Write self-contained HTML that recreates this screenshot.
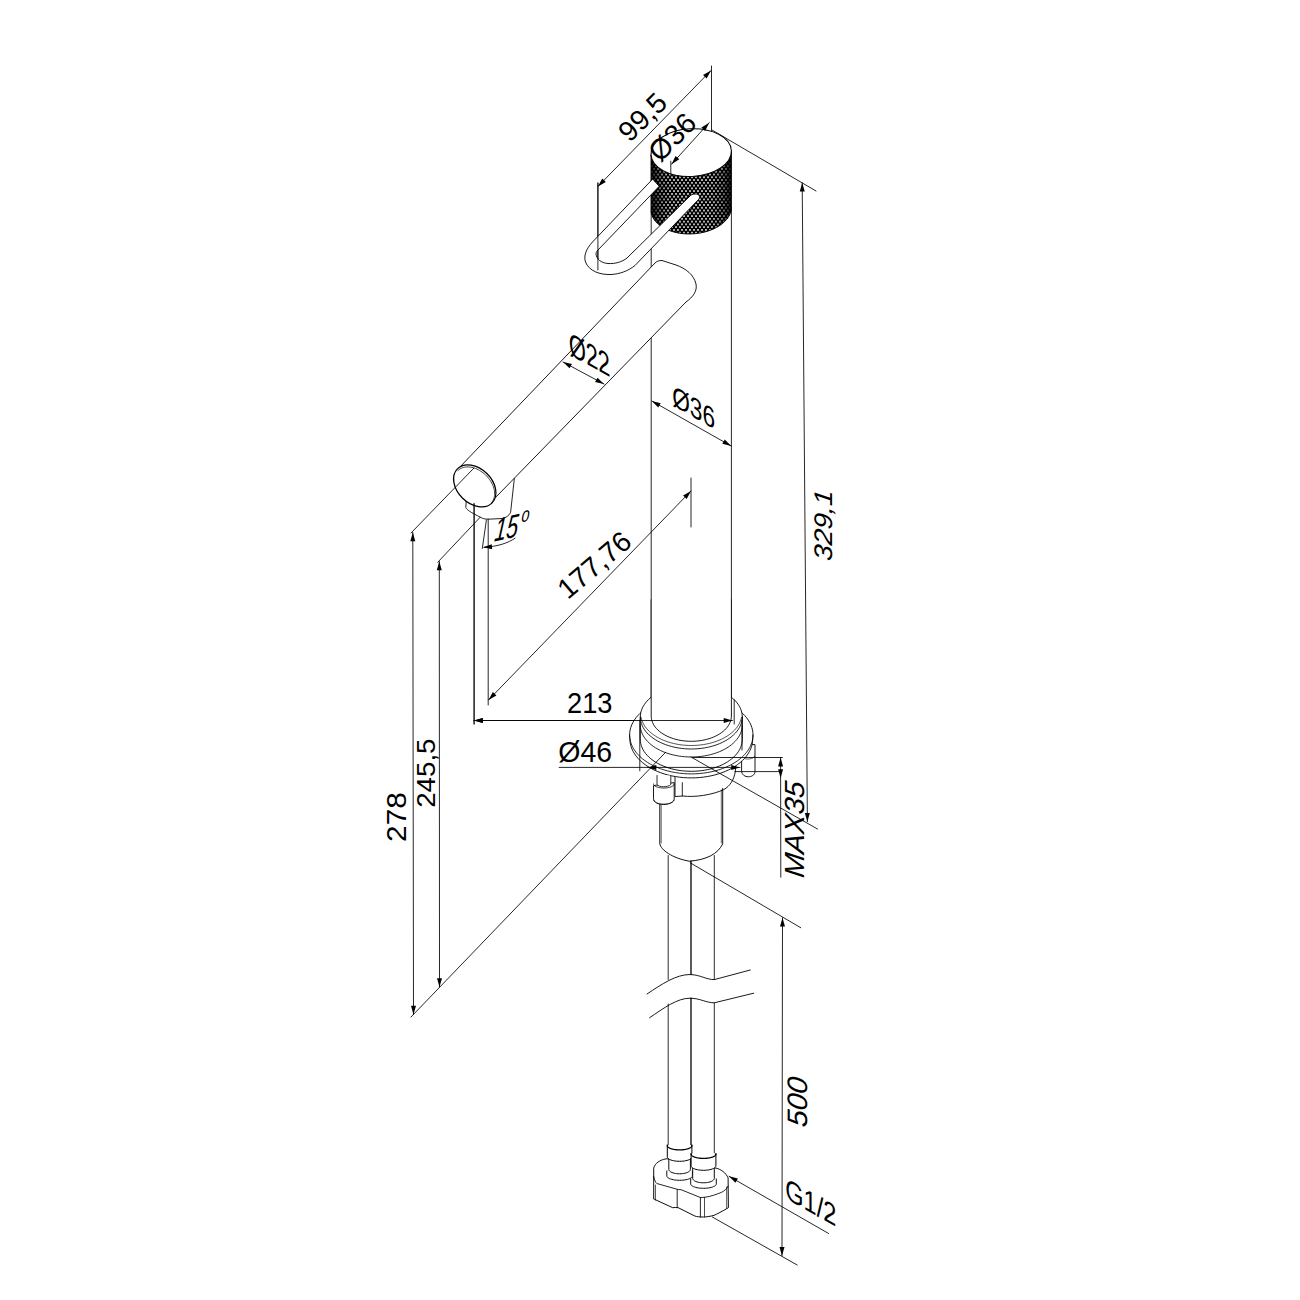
<!DOCTYPE html>
<html><head><meta charset="utf-8"><style>
html,body{margin:0;padding:0;background:#fff;}
svg{display:block;}
text{font-family:"Liberation Sans",sans-serif;fill:#000;stroke:none;}
</style></head><body>
<svg width="1300" height="1300" viewBox="0 0 1300 1300">
<defs>
<pattern id="knurl" width="4" height="5.54" patternUnits="userSpaceOnUse">
<rect width="4" height="5.54" fill="#000"/>
<circle cx="0" cy="0" r="0.95" fill="#fff"/><circle cx="4" cy="0" r="0.95" fill="#fff"/>
<circle cx="0" cy="5.54" r="0.95" fill="#fff"/><circle cx="4" cy="5.54" r="0.95" fill="#fff"/>
<circle cx="2" cy="2.77" r="0.95" fill="#fff"/>
</pattern>
<linearGradient id="kshade" x1="651" y1="0" x2="731.5" y2="0" gradientUnits="userSpaceOnUse">
<stop offset="0" stop-color="#000" stop-opacity="0.85"/>
<stop offset="0.12" stop-color="#000" stop-opacity="0.3"/>
<stop offset="0.25" stop-color="#000" stop-opacity="0"/>
<stop offset="0.75" stop-color="#000" stop-opacity="0"/>
<stop offset="0.9" stop-color="#000" stop-opacity="0.35"/>
<stop offset="1" stop-color="#000" stop-opacity="0.9"/>
</linearGradient>
</defs>
<rect width="1300" height="1300" fill="#fff"/>
<g fill="none" stroke="#000" stroke-linecap="round" stroke-linejoin="round">
<path d="M711.50,66.00L711.50,131.00" stroke-width="0.85"/>
<path d="M711.00,70.50L597.90,186.50" stroke-width="0.85"/>
<path d="M711.00,70.50L706.65,78.55L703.07,75.06Z" fill="#000" stroke="none"/>
<path d="M597.90,186.50L602.25,178.45L605.83,181.94Z" fill="#000" stroke="none"/>
<path d="M597.90,183.00L597.90,270.00" stroke-width="0.85"/>
<path d="M712.00,130.00L816.00,191.00" stroke-width="0.85"/>
<path d="M802.20,182.80L807.40,821.70" stroke-width="0.85"/>
<path d="M802.20,182.80L804.77,191.58L799.77,191.62Z" fill="#000" stroke="none"/>
<path d="M807.40,821.70L804.83,812.92L809.83,812.88Z" fill="#000" stroke="none"/>
<path d="M731.34,150.50L731.34,152.06L731.16,153.62L730.82,155.17L730.30,156.72L729.61,158.25L728.77,159.75L727.76,161.23L726.59,162.66L725.27,164.06L723.81,165.40L722.20,166.69L720.47,167.92L718.61,169.08L716.63,170.18L714.54,171.19L712.35,172.13L710.07,172.99L707.71,173.75L705.28,174.43L702.79,175.01L700.25,175.50L697.67,175.89L695.07,176.18L692.45,176.37L689.82,176.45L687.19,176.44L684.59,176.32L682.01,176.10L679.48,175.78L676.99,175.36L674.56,174.85L672.21,174.24L669.93,173.53L667.75,172.74L665.67,171.86L663.69,170.89L661.84,169.85L660.11,168.74L658.51,167.55L657.06,166.31L655.75,165.00L654.59,163.64L653.59,162.23L652.75,160.78L652.07,159.30L651.56,157.79L651.22,156.25L651.06,154.70L651.06,210.70L651.23,212.35L651.57,213.98L652.08,215.59L652.77,217.17L653.61,218.71L654.62,220.21L655.78,221.66L657.10,223.05L658.56,224.39L660.16,225.65L661.89,226.84L663.75,227.95L665.73,228.98L667.81,229.93L670.00,230.78L672.27,231.53L674.63,232.19L677.06,232.75L679.55,233.20L682.09,233.55L684.67,233.79L687.27,233.92L689.90,233.95L692.52,233.87L695.15,233.67L697.75,233.37L700.33,232.97L702.87,232.46L705.36,231.85L707.79,231.14L710.14,230.33L712.42,229.43L714.60,228.44L716.69,227.36L718.66,226.21L720.52,224.98L722.26,223.68L723.86,222.31L725.31,220.89L726.63,219.41L727.79,217.89L728.80,216.32L729.64,214.73L730.32,213.11L730.83,211.47L731.17,209.81L731.35,208.15L731.34,206.50Z" fill="url(#knurl)" stroke="#000" stroke-width="0.98"/>
<path d="M731.34,150.50L731.34,152.06L731.16,153.62L730.82,155.17L730.30,156.72L729.61,158.25L728.77,159.75L727.76,161.23L726.59,162.66L725.27,164.06L723.81,165.40L722.20,166.69L720.47,167.92L718.61,169.08L716.63,170.18L714.54,171.19L712.35,172.13L710.07,172.99L707.71,173.75L705.28,174.43L702.79,175.01L700.25,175.50L697.67,175.89L695.07,176.18L692.45,176.37L689.82,176.45L687.19,176.44L684.59,176.32L682.01,176.10L679.48,175.78L676.99,175.36L674.56,174.85L672.21,174.24L669.93,173.53L667.75,172.74L665.67,171.86L663.69,170.89L661.84,169.85L660.11,168.74L658.51,167.55L657.06,166.31L655.75,165.00L654.59,163.64L653.59,162.23L652.75,160.78L652.07,159.30L651.56,157.79L651.22,156.25L651.06,154.70L651.06,210.70L651.23,212.35L651.57,213.98L652.08,215.59L652.77,217.17L653.61,218.71L654.62,220.21L655.78,221.66L657.10,223.05L658.56,224.39L660.16,225.65L661.89,226.84L663.75,227.95L665.73,228.98L667.81,229.93L670.00,230.78L672.27,231.53L674.63,232.19L677.06,232.75L679.55,233.20L682.09,233.55L684.67,233.79L687.27,233.92L689.90,233.95L692.52,233.87L695.15,233.67L697.75,233.37L700.33,232.97L702.87,232.46L705.36,231.85L707.79,231.14L710.14,230.33L712.42,229.43L714.60,228.44L716.69,227.36L718.66,226.21L720.52,224.98L722.26,223.68L723.86,222.31L725.31,220.89L726.63,219.41L727.79,217.89L728.80,216.32L729.64,214.73L730.32,213.11L730.83,211.47L731.17,209.81L731.35,208.15L731.34,206.50Z" fill="url(#kshade)" stroke="none"/>
<ellipse cx="691.2" cy="152.6" rx="40.2" ry="23.8" transform="rotate(-3 691.2 152.6)" stroke-width="0.98" fill="#fff"/>
<path d="M709.20,122.70L671.50,164.20" stroke-width="0.85"/>
<path d="M709.20,122.70L705.13,130.89L701.43,127.53Z" fill="#000" stroke="none"/>
<path d="M671.50,164.20L675.57,156.01L679.27,159.37Z" fill="#000" stroke="none"/>
<path d="M670.80,161.20L670.80,174.00" stroke-width="0.85"/>
<path d="M651.20,211.00L651.20,716.00" stroke-width="0.85"/>
<path d="M731.40,208.00L731.40,721.00" stroke-width="0.85"/>
<path d="M652.5,179.2 L592.5,242 C586,249 583.5,256 585.5,262 C589,271 600,275 611,274.5 C620,274 628,271 635,265.5 L698.5,199.5 C701,196.5 699,194 695,194 C692.5,194 691,195 690,196 L627,258 C622,262 615,264 608,263.5 C601,263 596.5,259 596,254 C596,252 597,251 598,250 L659,186.5 Z" stroke-width="0.9" fill="#fff"/>
<path d="M597.90,183.00L597.90,270.00" stroke-width="0.85"/>
<path d="M466.3,500 L465.8,507.5 C467,510 470,512 481.5,517.8 C484,519 486,519.2 488.5,519.2 L502.3,518.5 C506,517.5 509,516 510.6,512.3 L514.4,478 L495,490 Z" stroke-width="0.86" fill="#fff"/>
<path d="M458.5,468.5 L655,263 C657,261 659,260.5 662,260.5 L676,265 C686,268.5 694,275 696,284 C697.5,291 693,297 686,302 L496.5,496.5 Z" stroke-width="0.9" fill="#fff"/>
<ellipse cx="474.75" cy="485.85" rx="24.3" ry="17.3" transform="rotate(44.4 474.75 485.85)" stroke-width="1.25" fill="#fff"/>
<path d="M457.97,470.62L458.74,469.91L459.57,469.27L460.46,468.70L461.41,468.20L462.41,467.79L463.47,467.45L464.57,467.20L465.71,467.02L466.89,466.93L468.10,466.92L469.34,466.99L470.60,467.15L471.87,467.39L473.16,467.70L474.45,468.10L475.74,468.57L477.03,469.13L478.31,469.75L479.57,470.44L480.81,471.21L482.03,472.04L483.21,472.93L484.36,473.87L485.47,474.87L486.53,475.92L487.54,477.02L488.50,478.16L489.40,479.33L490.24,480.53L491.01,481.76L491.72,483.01L492.35,484.28L492.92,485.56L493.40,486.84L493.81,488.13L494.13,489.40L494.38,490.67L494.54,491.92L494.62,493.15L494.62,494.36L494.53,495.53L494.36,496.67L494.11,497.76L493.78,498.82L493.37,499.82L492.88,500.76L492.31,501.65L491.67,502.48" stroke-width="0.75" fill="none"/>
<path d="M411.00,533.00L474.00,468.00" stroke-width="0.85"/>
<path d="M474.00,503.30L474.00,724.00" stroke-width="0.85"/>
<path d="M488.20,519.00L488.20,705.00" stroke-width="0.85"/>
<path d="M486.40,520.00L482.30,548.50" stroke-width="0.85"/>
<path d="M437.70,562.30L480.20,517.20" stroke-width="0.85"/>
<path d="M563.00,362.00L604.00,384.00" stroke-width="0.85"/>
<path d="M563.00,362.00L571.94,363.96L569.57,368.36Z" fill="#000" stroke="none"/>
<path d="M604.00,384.00L595.06,382.04L597.43,377.64Z" fill="#000" stroke="none"/>
<path d="M651.80,401.00L731.20,446.00" stroke-width="0.85"/>
<path d="M651.80,401.00L660.69,403.16L658.22,407.51Z" fill="#000" stroke="none"/>
<path d="M731.20,446.00L722.31,443.84L724.78,439.49Z" fill="#000" stroke="none"/>
<path d="M488.50,700.00L691.00,491.00" stroke-width="0.85"/>
<path d="M488.50,700.00L492.83,691.94L496.42,695.42Z" fill="#000" stroke="none"/>
<path d="M691.00,491.00L686.67,499.06L683.08,495.58Z" fill="#000" stroke="none"/>
<path d="M691.00,478.00L691.00,527.00" stroke-width="0.85"/>
<path d="M515.1,538.2 C508,543 498,546.5 484,547.3" stroke-width="0.85" fill="none"/>
<path d="M483.20,547.30L491.79,544.16L492.16,549.14Z" fill="#000" stroke="none"/>
<path d="M412.80,532.50L413.50,1014.60" stroke-width="0.85"/>
<path d="M412.80,532.50L415.31,541.30L410.31,541.30Z" fill="#000" stroke="none"/>
<path d="M413.50,1014.60L410.99,1005.80L415.99,1005.80Z" fill="#000" stroke="none"/>
<path d="M439.30,561.50L439.50,987.00" stroke-width="0.85"/>
<path d="M439.30,561.50L441.80,570.30L436.80,570.30Z" fill="#000" stroke="none"/>
<path d="M439.50,987.00L437.00,978.20L442.00,978.20Z" fill="#000" stroke="none"/>
<path d="M474.00,720.50L732.50,720.50" stroke-width="0.85"/>
<path d="M474.00,720.50L482.80,718.00L482.80,723.00Z" fill="#000" stroke="none"/>
<path d="M732.50,720.50L723.70,723.00L723.70,718.00Z" fill="#000" stroke="none"/>
<path d="M474.20,504.00L474.20,724.00" stroke-width="0.85"/>
<path d="M734.20,700.00L734.20,724.00" stroke-width="0.85"/>
<path d="M675.4,796.5 L682.9,796 C695,797.5 712,795 723.8,789.6 C730,786 734,780 735.4,771 L735.4,760 L675.4,760 Z" stroke-width="0.9" fill="#fff"/>
<path d="M682.30,782.70L682.30,796.00" stroke-width="0.85"/>
<path d="M741.6,745 L741.6,771.5 C742,775 745,776.8 748.3,776.8 C751.5,776.8 755,775 755,771.5 L755,745 Z" stroke-width="0.9" fill="#fff"/>
<path d="M754.40,756.00L754.39,756.20L754.34,756.39L754.27,756.59L754.18,756.78L754.05,756.96L753.90,757.15L753.72,757.33L753.52,757.50L753.29,757.67L753.04,757.83L752.76,757.98L752.47,758.12L752.15,758.26L751.82,758.38L751.47,758.49L751.10,758.60L750.72,758.69L750.33,758.77L749.92,758.84L749.51,758.90L749.09,758.94L748.66,758.97L748.23,758.99L747.80,759.00L747.37,758.99L746.94,758.97L746.51,758.94L746.09,758.90L745.68,758.84L745.27,758.77L744.88,758.69L744.50,758.60L744.13,758.49L743.78,758.38L743.45,758.26L743.13,758.12L742.84,757.98L742.56,757.83L742.31,757.67L742.08,757.50L741.88,757.33L741.70,757.15L741.55,756.96L741.42,756.78L741.33,756.59L741.26,756.39L741.21,756.20L741.20,756.00" stroke-width="0.68" fill="none"/>
<path d="M629.60,735.00L629.73,732.46L630.13,729.92L630.79,727.41L631.70,724.93L632.87,722.50L634.30,720.11L635.96,717.79L637.87,715.55L640.00,713.39L642.35,711.32L644.91,709.35L647.67,707.49L650.62,705.75L653.74,704.14L657.02,702.66L660.45,701.31L664.01,700.11L667.69,699.06L671.47,698.16L675.33,697.43L679.26,696.85L683.25,696.43L687.26,696.18L691.30,696.10L695.34,696.18L699.35,696.43L703.34,696.85L707.27,697.43L711.13,698.16L714.91,699.06L718.59,700.11L722.15,701.31L725.58,702.66L728.86,704.14L731.98,705.75L734.93,707.49L737.69,709.35L740.25,711.32L742.60,713.39L744.73,715.55L746.64,717.79L748.30,720.11L749.73,722.50L750.90,724.93L751.81,727.41L752.47,729.92L752.87,732.46L753.00,735.00L752.70,739.00L752.57,741.54L752.17,744.08L751.52,746.59L750.61,749.07L749.44,751.50L748.03,753.89L746.37,756.21L744.47,758.45L742.35,760.61L740.01,762.68L737.46,764.65L734.72,766.51L731.78,768.25L728.68,769.86L725.41,771.34L722.00,772.69L718.46,773.89L714.80,774.94L711.04,775.84L707.19,776.57L703.28,777.15L699.31,777.57L695.32,777.82L691.30,777.90L687.28,777.82L683.29,777.57L679.32,777.15L675.41,776.57L671.56,775.84L667.80,774.94L664.14,773.89L660.60,772.69L657.19,771.34L653.92,769.86L650.82,768.25L647.88,766.51L645.14,764.65L642.59,762.68L640.25,760.61L638.13,758.45L636.23,756.21L634.57,753.89L633.16,751.50L631.99,749.07L631.08,746.59L630.43,744.08L630.03,741.54L629.90,739.00Z" stroke-width="0.90" fill="#fff"/>
<path d="M753.00,735.00L752.87,737.54L752.47,740.08L751.81,742.59L750.90,745.07L749.73,747.50L748.30,749.89L746.64,752.21L744.73,754.45L742.60,756.61L740.25,758.68L737.69,760.65L734.93,762.51L731.98,764.25L728.86,765.86L725.58,767.34L722.15,768.69L718.59,769.89L714.91,770.94L711.13,771.84L707.27,772.57L703.34,773.15L699.35,773.57L695.34,773.82L691.30,773.90L687.26,773.82L683.25,773.57L679.26,773.15L675.33,772.57L671.47,771.84L667.69,770.94L664.01,769.89L660.45,768.69L657.02,767.34L653.74,765.86L650.62,764.25L647.67,762.51L644.91,760.65L642.35,758.68L640.00,756.61L637.87,754.45L635.96,752.21L634.30,749.89L632.87,747.50L631.70,745.07L630.79,742.59L630.13,740.08L629.73,737.54L629.60,735.00" stroke-width="0.83" fill="none"/>
<path d="M640.30,717.00L640.41,714.91L640.74,712.82L641.28,710.76L642.04,708.72L643.01,706.71L644.18,704.75L645.56,702.85L647.13,701.00L648.90,699.22L650.84,697.52L652.96,695.90L655.24,694.37L657.67,692.94L660.25,691.61L662.97,690.39L665.80,689.29L668.74,688.30L671.78,687.44L674.91,686.70L678.10,686.09L681.35,685.61L684.64,685.27L687.96,685.07L691.30,685.00L694.64,685.07L697.96,685.27L701.25,685.61L704.50,686.09L707.69,686.70L710.82,687.44L713.86,688.30L716.80,689.29L719.63,690.39L722.35,691.61L724.93,692.94L727.36,694.37L729.64,695.90L731.76,697.52L733.70,699.22L735.47,701.00L737.04,702.85L738.42,704.75L739.59,706.71L740.56,708.72L741.32,710.76L741.86,712.82L742.19,714.91L742.30,717.00L742.30,739.30L742.19,741.39L741.86,743.48L741.32,745.54L740.56,747.58L739.59,749.59L738.42,751.55L737.04,753.45L735.47,755.30L733.70,757.08L731.76,758.78L729.64,760.40L727.36,761.93L724.93,763.36L722.35,764.69L719.63,765.91L716.80,767.01L713.86,768.00L710.82,768.86L707.69,769.60L704.50,770.21L701.25,770.69L697.96,771.03L694.64,771.23L691.30,771.30L687.96,771.23L684.64,771.03L681.35,770.69L678.10,770.21L674.91,769.60L671.78,768.86L668.74,768.00L665.80,767.01L662.97,765.91L660.25,764.69L657.67,763.36L655.24,761.93L652.96,760.40L650.84,758.78L648.90,757.08L647.13,755.30L645.56,753.45L644.18,751.55L643.01,749.59L642.04,747.58L641.28,745.54L640.74,743.48L640.41,741.39L640.30,739.30Z" stroke-width="0.90" fill="#fff"/>
<path d="M742.30,717.00L742.19,719.09L741.86,721.18L741.32,723.24L740.56,725.28L739.59,727.29L738.42,729.25L737.04,731.15L735.47,733.00L733.70,734.78L731.76,736.48L729.64,738.10L727.36,739.63L724.93,741.06L722.35,742.39L719.63,743.61L716.80,744.71L713.86,745.70L710.82,746.56L707.69,747.30L704.50,747.91L701.25,748.39L697.96,748.73L694.64,748.93L691.30,749.00L687.96,748.93L684.64,748.73L681.35,748.39L678.10,747.91L674.91,747.30L671.78,746.56L668.74,745.70L665.80,744.71L662.97,743.61L660.25,742.39L657.67,741.06L655.24,739.63L652.96,738.10L650.84,736.48L648.90,734.78L647.13,733.00L645.56,731.15L644.18,729.25L643.01,727.29L642.04,725.28L641.28,723.24L640.74,721.18L640.41,719.09L640.30,717.00" stroke-width="0.86" fill="none"/>
<path d="M741.54,717.33L741.08,719.24L740.44,721.13L739.62,723.00L738.62,724.83L737.46,726.61L736.12,728.35L734.62,730.04L732.96,731.66L731.15,733.22L729.19,734.71L727.10,736.12L724.87,737.44L722.52,738.68L720.06,739.83L717.49,740.88L714.83,741.83L712.08,742.68L709.25,743.42L706.36,744.05L703.42,744.57L700.43,744.98L697.40,745.27L694.36,745.44L691.30,745.50L688.24,745.44L685.20,745.27L682.17,744.98L679.18,744.57L676.24,744.05L673.35,743.42L670.52,742.68L667.77,741.83L665.11,740.88L662.54,739.83L660.08,738.68L657.73,737.44L655.50,736.12L653.41,734.71L651.45,733.22L649.64,731.66L647.98,730.04L646.48,728.35L645.14,726.61L643.98,724.83L642.98,723.00L642.16,721.13L641.52,719.24L641.06,717.33" stroke-width="0.68" fill="none"/>
<path d="M742.29,725.64L742.12,727.70L741.73,729.76L741.14,731.79L740.34,733.80L739.33,735.76L738.12,737.69L736.72,739.56L735.12,741.37L733.35,743.11L731.40,744.78L729.28,746.36L727.00,747.85L724.57,749.25L722.01,750.55L719.32,751.74L716.50,752.82L713.59,753.78L710.58,754.63L707.49,755.34L704.34,755.94L701.12,756.40L697.87,756.73L694.59,756.93L691.30,757.00L688.01,756.93L684.73,756.73L681.48,756.40L678.26,755.94L675.11,755.34L672.02,754.63L669.01,753.78L666.10,752.82L663.28,751.74L660.59,750.55L658.03,749.25L655.60,747.85L653.32,746.36L651.20,744.78L649.25,743.11L647.48,741.37L645.88,739.56L644.48,737.69L643.27,735.76L642.26,733.80L641.46,731.79L640.87,729.76L640.48,727.70L640.31,725.64" stroke-width="0.83" fill="none"/>
<path d="M651.2,600 L651.2,716 L651.20,716.00L651.29,717.65L651.54,719.30L651.97,720.94L652.57,722.55L653.33,724.13L654.25,725.68L655.34,727.19L656.57,728.65L657.96,730.06L659.49,731.40L661.15,732.68L662.95,733.89L664.86,735.02L666.89,736.07L669.02,737.04L671.25,737.91L673.56,738.69L675.95,739.37L678.41,739.96L680.92,740.44L683.48,740.81L686.07,741.08L688.68,741.25L691.30,741.30L693.92,741.25L696.53,741.08L699.12,740.81L701.68,740.44L704.19,739.96L706.65,739.37L709.04,738.69L711.35,737.91L713.58,737.04L715.71,736.07L717.74,735.02L719.65,733.89L721.45,732.68L723.11,731.40L724.64,730.06L726.03,728.65L727.26,727.19L728.35,725.68L729.27,724.13L730.03,722.55L730.63,720.94L731.06,719.30L731.31,717.65L731.40,716.00 L731.4,600" stroke-width="0.90" fill="#fff"/>
<path d="M653.5,786 L653.5,798.8 C654,802.5 658,804.5 663.8,804.5 C669.5,804.5 674,802 674.2,799 L674.2,783 Z" stroke-width="0.9" fill="#fff"/>
<path d="M674.20,784.00L674.18,784.26L674.11,784.52L674.00,784.78L673.85,785.04L673.65,785.29L673.41,785.53L673.13,785.77L672.81,786.00L672.46,786.22L672.06,786.44L671.63,786.64L671.17,786.83L670.67,787.01L670.15,787.17L669.60,787.33L669.02,787.46L668.43,787.59L667.81,787.70L667.18,787.79L666.53,787.86L665.87,787.92L665.20,787.97L664.53,787.99L663.85,788.00L663.17,787.99L662.50,787.97L661.83,787.92L661.17,787.86L660.52,787.79L659.89,787.70L659.27,787.59L658.68,787.46L658.10,787.33L657.55,787.17L657.03,787.01L656.53,786.83L656.07,786.64L655.64,786.44L655.24,786.22L654.89,786.00L654.57,785.77L654.29,785.53L654.05,785.29L653.85,785.04L653.70,784.78L653.59,784.52L653.52,784.26L653.50,784.00" stroke-width="0.83" fill="none"/>
<path d="M673.99,800.39L673.86,800.64L673.69,800.89L673.49,801.13L673.26,801.37L673.00,801.60L672.71,801.82L672.39,802.04L672.05,802.25L671.67,802.45L671.27,802.64L670.85,802.82L670.40,802.98L669.93,803.14L669.45,803.29L668.94,803.42L668.42,803.54L667.88,803.65L667.33,803.74L666.77,803.82L666.19,803.88L665.61,803.93L665.03,803.97L664.44,803.99L663.85,804.00L663.26,803.99L662.67,803.97L662.09,803.93L661.51,803.88L660.93,803.82L660.37,803.74L659.82,803.65L659.28,803.54L658.76,803.42L658.25,803.29L657.77,803.14L657.30,802.98L656.85,802.82L656.43,802.64L656.03,802.45L655.65,802.25L655.31,802.04L654.99,801.82L654.70,801.60L654.44,801.37L654.21,801.13L654.01,800.89L653.84,800.64L653.71,800.39" stroke-width="0.6" fill="none"/>
<path d="M657,775.5 L657,784.5 C659,787.5 668,787.5 670.8,784.5 L670.8,775.5" stroke-width="0.83" fill="#fff"/>
<path d="M639.80,720.00L639.80,770.80" stroke-width="0.85"/>
<path d="M411.00,1017.00L665.60,752.30" stroke-width="0.85"/>
<path d="M742.00,720.00L742.00,750.00" stroke-width="0.85"/>
<path d="M474.00,720.50L732.50,720.50" stroke-width="0.85"/>
<path d="M474.00,720.50L482.80,718.00L482.80,723.00Z" fill="#000" stroke="none"/>
<path d="M732.50,720.50L723.70,723.00L723.70,718.00Z" fill="#000" stroke="none"/>
<path d="M734.20,700.00L734.20,724.00" stroke-width="0.85"/>
<path d="M647.50,767.40L740.00,767.40" stroke-width="0.85"/>
<path d="M647.50,767.40L656.30,764.90L656.30,769.90Z" fill="#000" stroke="none"/>
<path d="M740.00,767.40L731.20,769.90L731.20,764.90Z" fill="#000" stroke="none"/>
<path d="M559.20,767.40L647.50,767.40" stroke-width="0.85"/>
<path d="M692.70,757.50L782.30,757.50" stroke-width="0.85"/>
<path d="M735.00,771.60L780.50,771.60" stroke-width="0.85"/>
<path d="M780.60,757.50L780.80,877.20" stroke-width="0.85"/>
<path d="M780.60,757.70L783.10,766.50L778.10,766.50Z" fill="#000" stroke="none"/>
<path d="M780.60,778.00L778.10,769.20L783.10,769.20Z" fill="#000" stroke="none"/>
<path d="M691.00,757.00L817.50,829.00" stroke-width="0.85"/>
<path d="M659.8,804.6 L659.8,843.8 C661,850 672,858 689.2,861.2 C706,860 718,854 722.7,843.8 L722.7,788.5" stroke-width="0.94" fill="none"/>
<path d="M661.20,805.00L661.20,843.00" stroke-width="0.6"/>
<path d="M721.30,790.00L721.30,843.00" stroke-width="0.6"/>
<path d="M668.20,855.50L668.20,979.50" stroke-width="0.83"/>
<path d="M691.00,861.20L691.00,974.50" stroke-width="1.3"/>
<path d="M714.30,855.50L714.30,979.60" stroke-width="0.83"/>
<path d="M668.20,1004.00L668.20,1145.00" stroke-width="0.83"/>
<path d="M691.00,998.20L691.00,1145.00" stroke-width="1.3"/>
<path d="M714.30,1002.80L714.30,1153.00" stroke-width="0.83"/>
<path d="M647,994 C662,984 676,974.5 690.2,974.5 C701,975 706,979.6 714.3,979.6 L750.3,970" stroke-width="0.9" fill="none"/>
<path d="M649.6,1017.7 C664,1008 677,998.2 690.2,998.2 C701,998.5 706,1002.8 714.3,1002.8 L753.7,993.2" stroke-width="0.9" fill="none"/>
<path d="M690.20,862.80L800.70,927.70" stroke-width="0.85"/>
<path d="M782.50,917.80L782.00,1255.70" stroke-width="0.85"/>
<path d="M782.50,917.80L784.99,926.60L779.99,926.60Z" fill="#000" stroke="none"/>
<path d="M782.00,1255.70L779.51,1246.90L784.51,1246.90Z" fill="#000" stroke="none"/>
<path d="M712.30,1217.00L797.20,1265.00" stroke-width="0.85"/>
<path d="M729.00,1176.30L828.60,1233.50" stroke-width="0.85"/>
<path d="M729.00,1176.30L737.88,1178.51L735.39,1182.85Z" fill="#000" stroke="none"/>
<path d="M653.7,1198.7 L653.7,1168.2 C655,1163 660,1160 665.8,1158.9 L691,1158 L715,1167.9 C721,1169 726,1173 728.1,1177.9 L728.4,1207.7 C722,1211.5 717,1214 714.2,1215.3 C710,1216.5 706,1217 703.2,1217 C700,1217 697,1216.8 694.8,1216 L678.2,1207.7 C676,1207.3 674.5,1207.5 672.7,1207.7 L654.7,1199.4 Z" stroke-width="0.95" fill="#fff"/>
<path d="M653.7,1176.5 C654.5,1180 655.5,1182.5 656.8,1183.5 L676.2,1189 C678,1189.5 679.5,1189.8 681,1189.7 L700.4,1197.5 L704.5,1197.3 C711,1196.5 716,1194.5 721.2,1192.5 C724.5,1191 727,1188.5 728.1,1186.2" stroke-width="0.85" fill="none"/>
<path d="M655.4,1185 L655.4,1200" stroke-width="0.7" fill="none"/>
<path d="M677.2,1189.5 L677.2,1207.7" stroke-width="0.85" fill="none"/>
<path d="M700.4,1197.5 L700.4,1217" stroke-width="0.85" fill="none"/>
<path d="M704.5,1197.3 L704.5,1217" stroke-width="0.7" fill="none"/>
<path d="M726.7,1187 L726.7,1208" stroke-width="0.7" fill="none"/>
<path d="M666.80,1170.90 L666.80,1175.90 L666.80,1175.90L666.91,1176.47L667.24,1177.04L667.77,1177.58L668.51,1178.10L669.45,1178.58L670.55,1179.01L671.81,1179.39L673.20,1179.71L674.70,1179.97L676.29,1180.15L677.93,1180.26L679.60,1180.30L681.27,1180.26L682.91,1180.15L684.50,1179.97L686.00,1179.71L687.39,1179.39L688.65,1179.01L689.75,1178.58L690.69,1178.10L691.43,1177.58L691.96,1177.04L692.29,1176.47L692.40,1175.90 L692.40,1170.90 Z" fill="#fff" stroke="none"/>
<path d="M666.80,1170.90 L666.80,1175.90 L666.80,1175.90L666.91,1176.47L667.24,1177.04L667.77,1177.58L668.51,1178.10L669.45,1178.58L670.55,1179.01L671.81,1179.39L673.20,1179.71L674.70,1179.97L676.29,1180.15L677.93,1180.26L679.60,1180.30L681.27,1180.26L682.91,1180.15L684.50,1179.97L686.00,1179.71L687.39,1179.39L688.65,1179.01L689.75,1178.58L690.69,1178.10L691.43,1177.58L691.96,1177.04L692.29,1176.47L692.40,1175.90 L692.40,1170.90" stroke-width="0.95" fill="none"/>
<path d="M668.80,1154.90 L668.80,1169.40 L668.80,1169.40L668.89,1169.97L669.17,1170.54L669.62,1171.08L670.25,1171.60L671.03,1172.08L671.96,1172.51L673.03,1172.89L674.20,1173.21L675.47,1173.47L676.80,1173.65L678.19,1173.76L679.60,1173.80L681.01,1173.76L682.40,1173.65L683.73,1173.47L685.00,1173.21L686.17,1172.89L687.24,1172.51L688.17,1172.08L688.95,1171.60L689.58,1171.08L690.03,1170.54L690.31,1169.97L690.40,1169.40 L690.40,1154.90 Z" fill="#fff" stroke="none"/>
<path d="M668.80,1154.90 L668.80,1169.40 L668.80,1169.40L668.89,1169.97L669.17,1170.54L669.62,1171.08L670.25,1171.60L671.03,1172.08L671.96,1172.51L673.03,1172.89L674.20,1173.21L675.47,1173.47L676.80,1173.65L678.19,1173.76L679.60,1173.80L681.01,1173.76L682.40,1173.65L683.73,1173.47L685.00,1173.21L686.17,1172.89L687.24,1172.51L688.17,1172.08L688.95,1171.60L689.58,1171.08L690.03,1170.54L690.31,1169.97L690.40,1169.40 L690.40,1154.90" stroke-width="0.95" fill="none"/>
<path d="M667.30,1145.00 L667.30,1156.90 L667.30,1156.90L667.41,1157.47L667.72,1158.04L668.24,1158.58L668.95,1159.10L669.84,1159.58L670.90,1160.01L672.11,1160.39L673.45,1160.71L674.89,1160.97L676.42,1161.15L677.99,1161.26L679.60,1161.30L681.21,1161.26L682.78,1161.15L684.31,1160.97L685.75,1160.71L687.09,1160.39L688.30,1160.01L689.36,1159.58L690.25,1159.10L690.96,1158.58L691.48,1158.04L691.79,1157.47L691.90,1156.90 L691.90,1145.00 Z" fill="#fff" stroke="none"/>
<path d="M667.30,1145.00 L667.30,1156.90 L667.30,1156.90L667.41,1157.47L667.72,1158.04L668.24,1158.58L668.95,1159.10L669.84,1159.58L670.90,1160.01L672.11,1160.39L673.45,1160.71L674.89,1160.97L676.42,1161.15L677.99,1161.26L679.60,1161.30L681.21,1161.26L682.78,1161.15L684.31,1160.97L685.75,1160.71L687.09,1160.39L688.30,1160.01L689.36,1159.58L690.25,1159.10L690.96,1158.58L691.48,1158.04L691.79,1157.47L691.90,1156.90 L691.90,1145.00" stroke-width="1.0" fill="none"/>
<path d="M691.90,1145.50L691.87,1145.79L691.79,1146.07L691.66,1146.36L691.48,1146.64L691.25,1146.91L690.96,1147.18L690.63,1147.45L690.25,1147.70L689.83,1147.94L689.36,1148.18L688.85,1148.40L688.30,1148.61L687.71,1148.81L687.09,1148.99L686.43,1149.16L685.75,1149.31L685.04,1149.45L684.31,1149.57L683.55,1149.67L682.78,1149.75L682.00,1149.82L681.21,1149.86L680.40,1149.89L679.60,1149.90L678.80,1149.89L677.99,1149.86L677.20,1149.82L676.42,1149.75L675.65,1149.67L674.89,1149.57L674.16,1149.45L673.45,1149.31L672.77,1149.16L672.11,1148.99L671.49,1148.81L670.90,1148.61L670.35,1148.40L669.84,1148.18L669.37,1147.94L668.95,1147.70L668.57,1147.45L668.24,1147.18L667.95,1146.91L667.72,1146.64L667.54,1146.36L667.41,1146.07L667.33,1145.79L667.30,1145.50" stroke-width="1.3" fill="none"/>
<path d="M690.70,1178.90 L690.70,1183.90 L690.70,1183.90L690.81,1184.47L691.14,1185.04L691.67,1185.58L692.41,1186.10L693.35,1186.58L694.45,1187.01L695.71,1187.39L697.10,1187.71L698.60,1187.97L700.19,1188.15L701.83,1188.26L703.50,1188.30L705.17,1188.26L706.81,1188.15L708.40,1187.97L709.90,1187.71L711.29,1187.39L712.55,1187.01L713.65,1186.58L714.59,1186.10L715.33,1185.58L715.86,1185.04L716.19,1184.47L716.30,1183.90 L716.30,1178.90 Z" fill="#fff" stroke="none"/>
<path d="M690.70,1178.90 L690.70,1183.90 L690.70,1183.90L690.81,1184.47L691.14,1185.04L691.67,1185.58L692.41,1186.10L693.35,1186.58L694.45,1187.01L695.71,1187.39L697.10,1187.71L698.60,1187.97L700.19,1188.15L701.83,1188.26L703.50,1188.30L705.17,1188.26L706.81,1188.15L708.40,1187.97L709.90,1187.71L711.29,1187.39L712.55,1187.01L713.65,1186.58L714.59,1186.10L715.33,1185.58L715.86,1185.04L716.19,1184.47L716.30,1183.90 L716.30,1178.90" stroke-width="0.95" fill="none"/>
<path d="M692.70,1163.90 L692.70,1178.40 L692.70,1178.40L692.79,1178.97L693.07,1179.54L693.52,1180.08L694.15,1180.60L694.93,1181.08L695.86,1181.51L696.93,1181.89L698.10,1182.21L699.37,1182.47L700.70,1182.65L702.09,1182.76L703.50,1182.80L704.91,1182.76L706.30,1182.65L707.63,1182.47L708.90,1182.21L710.07,1181.89L711.14,1181.51L712.07,1181.08L712.85,1180.60L713.48,1180.08L713.93,1179.54L714.21,1178.97L714.30,1178.40 L714.30,1163.90 Z" fill="#fff" stroke="none"/>
<path d="M692.70,1163.90 L692.70,1178.40 L692.70,1178.40L692.79,1178.97L693.07,1179.54L693.52,1180.08L694.15,1180.60L694.93,1181.08L695.86,1181.51L696.93,1181.89L698.10,1182.21L699.37,1182.47L700.70,1182.65L702.09,1182.76L703.50,1182.80L704.91,1182.76L706.30,1182.65L707.63,1182.47L708.90,1182.21L710.07,1181.89L711.14,1181.51L712.07,1181.08L712.85,1180.60L713.48,1180.08L713.93,1179.54L714.21,1178.97L714.30,1178.40 L714.30,1163.90" stroke-width="0.95" fill="none"/>
<path d="M691.10,1153.50 L691.10,1165.90 L691.10,1165.90L691.21,1166.47L691.52,1167.04L692.04,1167.58L692.76,1168.10L693.66,1168.58L694.73,1169.01L695.95,1169.39L697.30,1169.71L698.75,1169.97L700.29,1170.15L701.88,1170.26L703.50,1170.30L705.12,1170.26L706.71,1170.15L708.25,1169.97L709.70,1169.71L711.05,1169.39L712.27,1169.01L713.34,1168.58L714.24,1168.10L714.96,1167.58L715.48,1167.04L715.79,1166.47L715.90,1165.90 L715.90,1153.50 Z" fill="#fff" stroke="none"/>
<path d="M691.10,1153.50 L691.10,1165.90 L691.10,1165.90L691.21,1166.47L691.52,1167.04L692.04,1167.58L692.76,1168.10L693.66,1168.58L694.73,1169.01L695.95,1169.39L697.30,1169.71L698.75,1169.97L700.29,1170.15L701.88,1170.26L703.50,1170.30L705.12,1170.26L706.71,1170.15L708.25,1169.97L709.70,1169.71L711.05,1169.39L712.27,1169.01L713.34,1168.58L714.24,1168.10L714.96,1167.58L715.48,1167.04L715.79,1166.47L715.90,1165.90 L715.90,1153.50" stroke-width="1.0" fill="none"/>
<path d="M715.90,1154.00L715.87,1154.29L715.79,1154.57L715.66,1154.86L715.48,1155.14L715.24,1155.41L714.96,1155.68L714.62,1155.95L714.24,1156.20L713.81,1156.44L713.34,1156.68L712.82,1156.90L712.27,1157.11L711.68,1157.31L711.05,1157.49L710.39,1157.66L709.70,1157.81L708.98,1157.95L708.25,1158.07L707.49,1158.17L706.71,1158.25L705.92,1158.32L705.12,1158.36L704.31,1158.39L703.50,1158.40L702.69,1158.39L701.88,1158.36L701.08,1158.32L700.29,1158.25L699.51,1158.17L698.75,1158.07L698.02,1157.95L697.30,1157.81L696.61,1157.66L695.95,1157.49L695.32,1157.31L694.73,1157.11L694.18,1156.90L693.66,1156.68L693.19,1156.44L692.76,1156.20L692.38,1155.95L692.04,1155.68L691.76,1155.41L691.52,1155.14L691.34,1154.86L691.21,1154.57L691.13,1154.29L691.10,1154.00" stroke-width="1.3" fill="none"/>
<text transform="matrix(0.71080,-0.70339,0.70339,0.71080,649.40,124.00)" font-size="28.28" font-style="normal" text-anchor="middle">99,5</text>
<text transform="matrix(0.69842,-0.71569,0.71569,0.69842,679.25,143.90)" font-size="28.65" font-style="normal" text-anchor="middle">Ø36</text>
<text transform="matrix(0.65596,0.36361,0.05234,0.99863,590.12,366.12)" font-size="33.29" font-style="normal" text-anchor="middle">Ø22</text>
<text transform="matrix(0.77942,0.45000,-0.00000,1.00000,693.60,417.30)" font-size="29.11" font-style="normal" text-anchor="middle">Ø36</text>
<text transform="matrix(0.76041,-0.64945,0.64945,0.76041,600.65,572.35)" font-size="28.20" font-style="normal" text-anchor="middle">177,76</text>
<text transform="matrix(0.90000,0.00000,-0.00000,1.00000,589.80,713.45)" font-size="30.26" font-style="normal" text-anchor="middle">213</text>
<text transform="matrix(0.95000,0.00000,-0.00000,1.00000,585.20,762.45)" font-size="30.05" font-style="normal" text-anchor="middle">Ø46</text>
<text transform="matrix(0.00000,-1.10000,1.00000,0.00000,405.85,817.00)" font-size="27.14" font-style="normal" text-anchor="middle">278</text>
<text transform="matrix(0.00000,-1.10000,1.00000,0.00000,435.40,773.15)" font-size="25.18" font-style="normal" text-anchor="middle">245,5</text>
<text transform="matrix(0.00000,-1.10000,0.99255,0.12187,831.55,526.20)" font-size="25.68" font-style="italic" text-anchor="middle">329,1</text>
<text transform="matrix(0.00000,-1.05000,0.99255,0.12187,803.50,830.55)" font-size="27.91" font-style="italic" text-anchor="middle">MAX35</text>
<text transform="matrix(0.00000,-1.05000,0.99255,0.12187,807.20,1102.95)" font-size="28.41" font-style="italic" text-anchor="middle">500</text>
<text transform="matrix(0.78332,0.44318,-0.00000,1.00000,810.80,1212.60)" font-size="30.04" font-style="normal" text-anchor="middle">G1/2</text>
<text transform="matrix(0.63580,-0.13514,-0.10453,0.99452,505.45,539.00)" font-size="33.10" font-style="italic" text-anchor="middle">15</text>
<text transform="matrix(0.68470,-0.14554,-0.10453,0.99452,525.00,521.60)" font-size="21.01" font-style="italic" text-anchor="middle">o</text>
</g>
</svg>
</body></html>
